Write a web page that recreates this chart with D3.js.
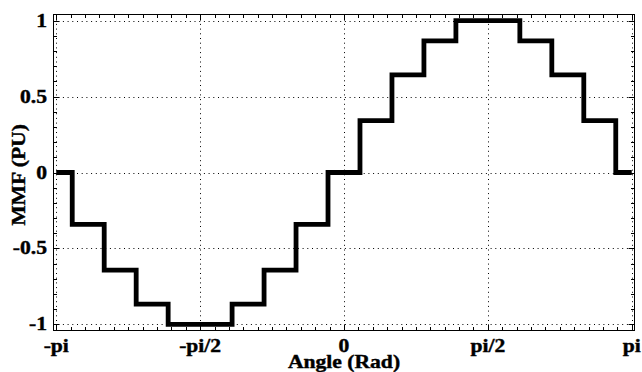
<!DOCTYPE html>
<html>
<head>
<meta charset="utf-8">
<script src="https://cdn.jsdelivr.net/npm/d3@7"></script>
<style>
  html, body { margin: 0; padding: 0; background: #fff; }
  svg { display: block; }
  .lbl { font-family: "Liberation Serif", "Times New Roman", serif; font-weight: bold; font-size: 18px;
         fill: #000; stroke: #000; stroke-width: 0.4px; }
</style>
</head>
<body>
<svg id="chart" width="642" height="372"></svg>
<script>
// Stepped MMF waveform: the level holds from each edge angle (degrees) to the next.
const edgeAnglesDeg = [-180, -170, -150, -130, -110, -70, -50, -30, -10, 10, 30, 50, 70, 110, 130, 150, 170, 180];
const mmfLevels     = [0, -0.342, -0.643, -0.866, -1, -0.866, -0.643, -0.342, 0, 0.342, 0.643, 0.866, 1, 0.866, 0.643, 0.342, 0, 0];

const xTickValues = [-Math.PI, -Math.PI / 2, 0, Math.PI / 2, Math.PI];
const xTickLabels = ["-pi", "-pi/2", "0", "pi/2", "pi"];
const yTickValues = [-1, -0.5, 0, 0.5, 1];
const yTickLabels = ["-1", "-0.5", "0", "0.5", "1"];

const xTitle = "Angle (Rad)";
const yTitle = "MMF (PU)";

const plotL = 53.5, plotR = 634.5, plotT = 14.5, plotB = 330.5;
const pad = 0.03;

const x = d3.scaleLinear().domain([-Math.PI - pad, Math.PI + pad]).range([plotL, plotR]);
const y = d3.scaleLinear().domain([-1.04, 1.04]).range([plotB, plotT]);

const svg = d3.select("#chart");

// Dotted grid
const grid = svg.append("g").attr("stroke", "#000").attr("stroke-width", 1)
  .attr("stroke-dasharray", "1,3.7").attr("fill", "none");
grid.selectAll("line.v").data(xTickValues).join("line").attr("class", "v")
  .attr("x1", d => Math.round(x(d)) + 0.5).attr("x2", d => Math.round(x(d)) + 0.5)
  .attr("y1", plotT).attr("y2", plotB);
grid.selectAll("line.h").data(yTickValues).join("line").attr("class", "h")
  .attr("y1", d => Math.round(y(d)) + 0.5).attr("y2", d => Math.round(y(d)) + 0.5)
  .attr("x1", plotL).attr("x2", plotR);

// Tick marks on all four sides, pointing inward
const xMinor = d3.range(-20, 21).map(i => i * Math.PI / 20);
const yMinor = d3.range(-10, 11).map(i => i / 10);
const isMajorX = v => xTickValues.some(t => Math.abs(t - v) < 1e-9);
const isMajorY = v => yTickValues.some(t => Math.abs(t - v) < 1e-9);

const ticks = svg.append("g").attr("stroke", "#000").attr("stroke-width", 1);
const minorLen = 3.5, majorLen = 6;
xMinor.forEach(v => {
  const px = Math.round(x(v)) + 0.5;
  const len = isMajorX(v) ? majorLen : minorLen;
  ticks.append("line").attr("x1", px).attr("x2", px).attr("y1", plotB).attr("y2", plotB - len);
  ticks.append("line").attr("x1", px).attr("x2", px).attr("y1", plotT).attr("y2", plotT + len);
});
yMinor.forEach(v => {
  const py = Math.round(y(v)) + 0.5;
  const len = isMajorY(v) ? majorLen : minorLen;
  ticks.append("line").attr("y1", py).attr("y2", py).attr("x1", plotL).attr("x2", plotL + len);
  ticks.append("line").attr("y1", py).attr("y2", py).attr("x1", plotR).attr("x2", plotR - len);
});

// Plot frame
svg.append("rect").attr("x", plotL).attr("y", plotT)
  .attr("width", plotR - plotL).attr("height", plotB - plotT)
  .attr("fill", "none").attr("stroke", "#000").attr("stroke-width", 1);

// Waveform
const pts = edgeAnglesDeg.map((a, i) => [a * Math.PI / 180, mmfLevels[i]]);
const line = d3.line().x(d => x(d[0])).y(d => y(d[1])).curve(d3.curveStepAfter);
svg.append("path").datum(pts)
  .attr("d", line)
  .attr("fill", "none").attr("stroke", "#000").attr("stroke-width", 4.8)
  .attr("stroke-linejoin", "miter").attr("stroke-linecap", "butt");

// Labels (wide bold serif)
const sx = 1.2;
function label(txt, px, py, anchor, rot) {
  svg.append("text").attr("class", "lbl")
    .attr("text-anchor", anchor)
    .attr("transform", `translate(${px},${py})${rot ? " rotate(" + rot + ")" : ""} scale(${sx},1)`)
    .text(txt);
}
xTickValues.forEach((v, i) => label(xTickLabels[i], x(v), 352, "middle"));
yTickValues.forEach((v, i) => label(yTickLabels[i], 47, y(v) + 6, "end"));
label(xTitle, 344, 368, "middle");
label(yTitle, 25, 175, "middle", -90);
</script>
</body>
</html>
